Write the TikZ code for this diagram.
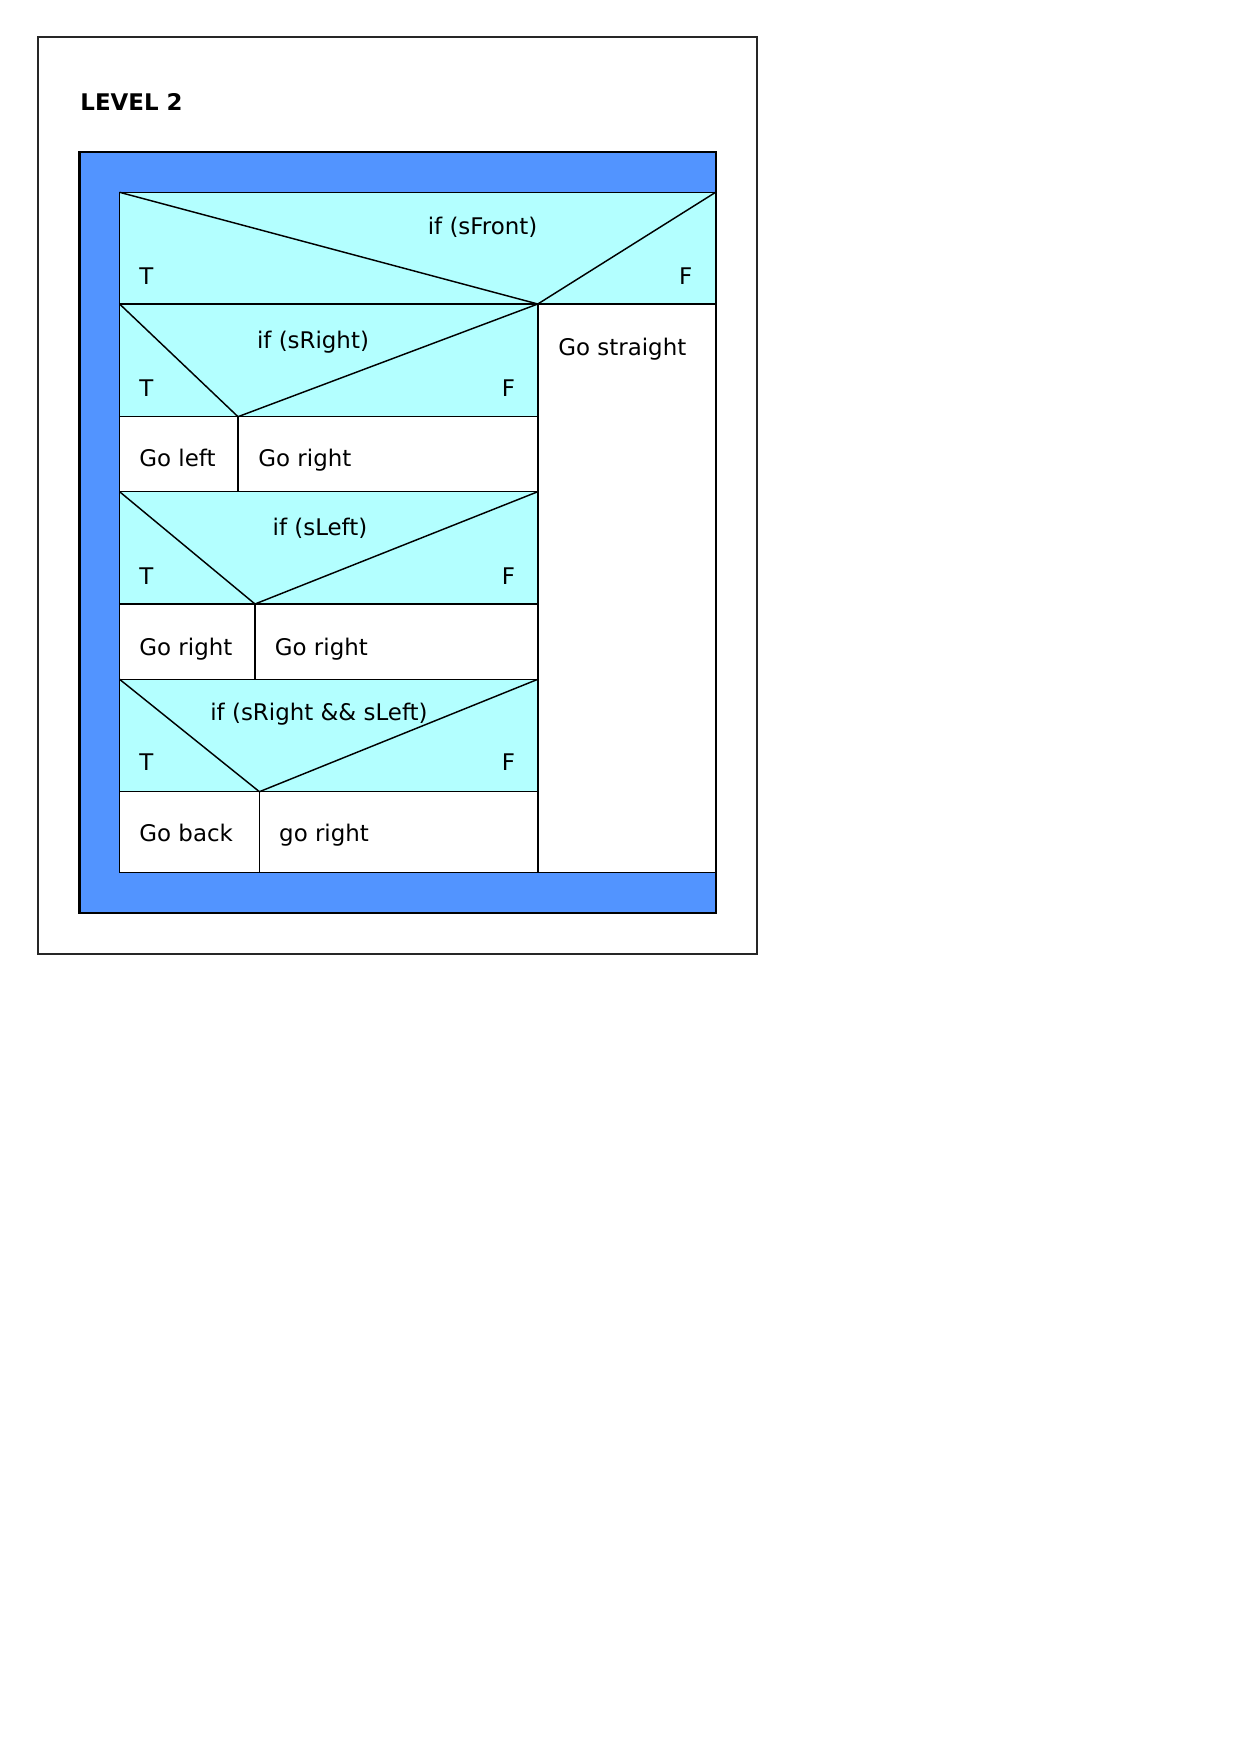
\documentclass[tikz,border=0pt]{standalone}
\usepackage{fontspec}
\setmainfont{DejaVu Sans}
\definecolor{loopblue}{HTML}{5294FF}
\definecolor{ifcyan}{HTML}{B3FFFF}
\tikzset{
	lbl/.style={inner sep=0pt, font=\fontsize{11}{13}\selectfont},
	cell/.style={draw, line width=0.7pt},
}
\begin{document}
\begin{tikzpicture}[x=0.48pt, y=-0.48pt]
		\useasboundingbox (0,0) rectangle (1240,1753);
		% Frame and title
		\draw[line width=0.6pt, black!85] (38,37) rectangle (757,954);
		\node[lbl, anchor=base west, font=\bfseries\fontsize{11}{13}\selectfont] (Title) at (80,110) {LEVEL 2};
		
		% Loop block
		\draw[cell, line width=1pt, fill=loopblue] (79.5,152) rectangle (715.6,912.7);
		\draw[cell, fill=white] (119.6,192.3) rectangle (715.6,872.7);
		
		% Condition rows
		\fill[ifcyan] (119.6,192.3) rectangle (715.6,304);
		\fill[ifcyan] (119.6,304) rectangle (537.8,416.7);
		\fill[ifcyan] (119.6,491.7) rectangle (537.8,604);
		\fill[ifcyan] (119.6,679.3) rectangle (537.8,791.7);
		
		\coordinate (Apex1) at (537.8,304);
		\coordinate (Apex2) at (238,416.7);
		\coordinate (Apex3) at (255,604);
		\coordinate (Apex4) at (259.4,791.7);
		
		% if (sFront)
		\draw[cell] (119.6,192.3) rectangle (715.6,304);
		\draw[cell] (119.6,192.3) -- (Apex1) -- (715.6,192.3);
		\draw[cell] (Apex1) -- (537.8,872.7);
		\node[lbl, anchor=base] (IfFront) at (482.6,234) {if (sFront)};
		\node[lbl, anchor=base west] (TFront) at (139,284) {T};
		\node[lbl, anchor=base east] (FFront) at (692.6,284) {F};
		\node[lbl, anchor=base west] (GoStraight) at (558,355) {Go straight};
		
		% if (sRight)
		\draw[cell] (119.6,304) rectangle (537.8,416.7);
		\draw[cell] (119.6,304) -- (Apex2) -- (537.8,304);
		\node[lbl, anchor=base] (IfRight) at (313,348.3) {if (sRight)};
		\node[lbl, anchor=base west] (TRight) at (139,396.7) {T};
		\node[lbl, anchor=base east] (FRight) at (515.5,396.7) {F};
		\draw[cell] (119.6,416.7) rectangle (537.8,491.7);
		\draw[cell] (Apex2) -- (238,491.7);
		\node[lbl, anchor=base west] (Action11) at (139,466.7) {Go left};
		\node[lbl, anchor=base west] (Action12) at (258,466.7) {Go right};
		
		% if (sLeft)
		\draw[cell] (119.6,491.7) rectangle (537.8,604);
		\draw[cell] (119.6,491.7) -- (Apex3) -- (537.8,491.7);
		\node[lbl, anchor=base] (IfLeft) at (320,535) {if (sLeft)};
		\node[lbl, anchor=base west] (TLeft) at (139,584) {T};
		\node[lbl, anchor=base east] (FLeft) at (515.5,584) {F};
		\draw[cell] (119.6,604) rectangle (537.8,679.3);
		\draw[cell] (Apex3) -- (255,679.3);
		\node[lbl, anchor=base west] (Action21) at (139,655) {Go right};
		\node[lbl, anchor=base west] (Action22) at (274.5,655) {Go right};
		
		% if (sRight && sLeft)
		\draw[cell] (119.6,679.3) rectangle (537.8,791.7);
		\draw[cell] (119.6,679.3) -- (Apex4) -- (537.8,679.3);
		\node[lbl, anchor=base] (IfBoth) at (319,720.7) {if (sRight \&\& sLeft)};
		\node[lbl, anchor=base west] (TBoth) at (139,770.7) {T};
		\node[lbl, anchor=base east] (FBoth) at (515.5,770.7) {F};
		\draw[cell] (119.6,791.7) rectangle (537.8,872.7);
		\draw[cell] (Apex4) -- (259.4,872.7);
		\node[lbl, anchor=base west] (Action31) at (139,841.7) {Go back};
		\node[lbl, anchor=base west] (Action32) at (278.8,841.7) {go right};
		
	\end{tikzpicture}
\end{document}
